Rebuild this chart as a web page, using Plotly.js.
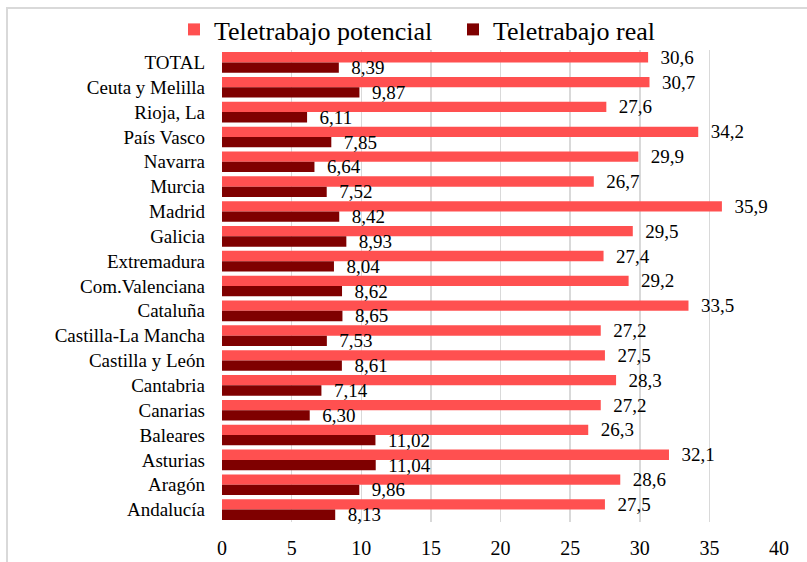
<!DOCTYPE html>
<html>
<head>
<meta charset="utf-8">
<script src="https://cdn.plot.ly/plotly-3.0.1.min.js"></script>
<style>
  html, body { margin: 0; padding: 0; background: #fff; }
  #chart { width: 807px; height: 562px; }
</style>
</head>
<body>
<div id="chart"></div>
<script>
// regions, top to bottom as shown
const regions = [
  "TOTAL", "Ceuta y Melilla", "Rioja, La", "País Vasco", "Navarra", "Murcia",
  "Madrid", "Galicia", "Extremadura", "Com.Valenciana", "Cataluña",
  "Castilla-La Mancha", "Castilla y León", "Cantabria", "Canarias",
  "Baleares", "Asturias", "Aragón", "Andalucía"
];
const potencial = [
  30.6, 30.7, 27.6, 34.2, 29.9, 26.7, 35.9, 29.5, 27.4, 29.2, 33.5,
  27.2, 27.5, 28.3, 27.2, 26.3, 32.1, 28.6, 27.5
];
const real = [
  8.39, 9.87, 6.11, 7.85, 6.64, 7.52, 8.42, 8.93, 8.04, 8.62, 8.65,
  7.53, 8.61, 7.14, 6.30, 11.02, 11.04, 9.86, 8.13
];
const xTicks = [0, 5, 10, 15, 20, 25, 30, 35, 40];

const FONT = "Liberation Serif";
const pad = "\u00a0\u00a0";

const traces = [
  {
    type: "bar",
    orientation: "h",
    name: "Teletrabajo potencial",
    y: regions,
    x: potencial,
    marker: { color: "#FF5050" },
    texttemplate: pad + "%{x:.1f}",
    textposition: "outside",
    textfont: { family: FONT, size: 19, color: "#000" },
    constraintext: "none",
    cliponaxis: false,
    hoverinfo: "skip",
  },
  {
    type: "bar",
    orientation: "h",
    name: "Teletrabajo real",
    y: regions,
    x: real,
    marker: { color: "#7F0000" },
    texttemplate: pad + "%{x:.2f}",
    textposition: "outside",
    textfont: { family: FONT, size: 19, color: "#000" },
    constraintext: "none",
    cliponaxis: false,
    hoverinfo: "skip",
  },
];

// plot area in px, used for the outer frame
const L = 222, R = 28, T = 50, B = 40, W = 807, H = 562;
const pw = W - L - R, ph = H - T - B;
const px = (v) => (v - L) / pw;
const py = (v) => (H - B - v) / ph;

const layout = {
  width: W,
  height: H,
  margin: { l: L, r: R, t: T, b: B, pad: 0, autoexpand: false },
  paper_bgcolor: "#fff",
  plot_bgcolor: "#fff",
  font: { family: FONT, size: 19, color: "#000" },
  separators: ",.",
  barmode: "group",
  bargap: 0.17,
  bargroupgap: 0,
  showlegend: true,
  legend: {
    orientation: "h",
    xref: "container",
    yref: "container",
    x: 174 / W,
    xanchor: "left",
    y: 1 - 6 / H,
    yanchor: "top",
    bgcolor: "rgba(0,0,0,0)",
    font: { family: FONT, size: 26, color: "#000" },
    entrywidth: 234,
    entrywidthmode: "pixels",
    itemclick: false,
  },
  xaxis: {
    range: [0, 40],
    tickvals: xTicks,
    ticks: "",
    showgrid: true,
    gridcolor: "#d9d9d9",
    gridwidth: 1.5,
    zeroline: false,
    showline: false,
    ticklabelstandoff: 12,
    tickfont: { family: FONT, size: 20 },
    fixedrange: true,
  },
  yaxis: {
    type: "category",
    autorange: "reversed",
    tickvals: regions,
    ticks: "",
    showgrid: false,
    zeroline: false,
    showline: false,
    ticklabelstandoff: 16,
    tickfont: { family: FONT, size: 19 },
    fixedrange: true,
  },
  shapes: [
    {
      type: "rect",
      xref: "paper",
      yref: "paper",
      x0: px(7),
      x1: px(W + 20),
      y0: py(H + 20),
      y1: py(8),
      line: { color: "#d9d9d9", width: 2 },
      layer: "below",
    },
  ],
};

Plotly.newPlot("chart", traces, layout, { displayModeBar: false, staticPlot: true });
</script>
</body>
</html>
